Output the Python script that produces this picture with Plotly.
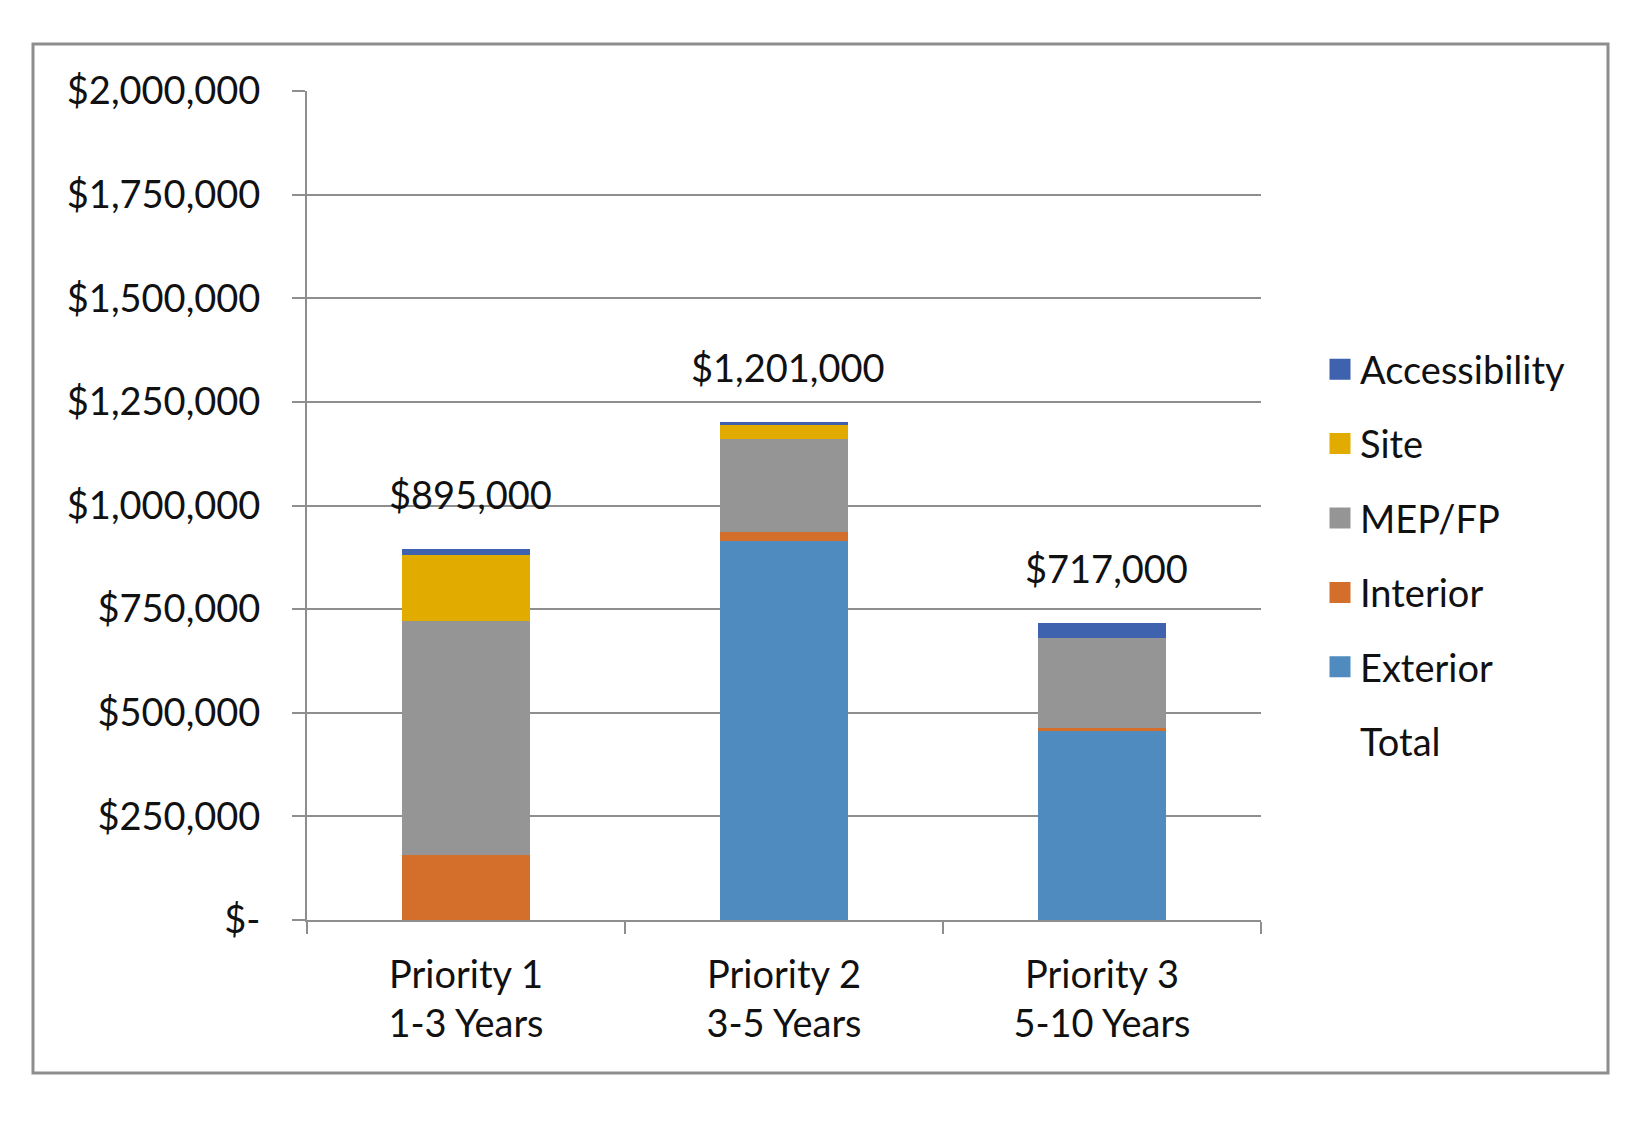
import plotly.graph_objects as go

categories = ["Priority 1<br>1-3 Years", "Priority 2<br>3-5 Years", "Priority 3<br>5-10 Years"]
exterior = [0, 914000, 457000]
interior = [157000, 23000, 7000]
mep_fp = [564000, 223000, 216000]
site = [160000, 35000, 0]
accessibility = [14000, 6000, 37000]
totals = [895000, 1201000, 717000]
total_labels = ["$895,000", "$1,201,000", "$717,000"]
y_ticks = [0, 250000, 500000, 750000, 1000000, 1250000, 1500000, 1750000, 2000000]
y_tick_labels = ["$-", "$250,000", "$500,000", "$750,000", "$1,000,000",
                 "$1,250,000", "$1,500,000", "$1,750,000", "$2,000,000"]

series = [
    ("Exterior", exterior, "#4f8bbf", 5),
    ("Interior", interior, "#d46f2b", 4),
    ("MEP/FP", mep_fp, "#959595", 3),
    ("Site", site, "#e2ab00", 2),
    ("Accessibility", accessibility, "#3e62ad", 1),
]

FONT = "Lato"
FS = 38
TXT = "#111111"
GRID = "#8e8e8e"

fig = go.Figure()
for name, vals, color, rank in series:
    fig.add_trace(go.Bar(x=categories, y=vals, name=name, marker_color=color,
                         marker_line_width=0, showlegend=False, hoverinfo="y+name"))
# legend entries with larger square swatches
for name, vals, color, rank in series:
    fig.add_trace(go.Scatter(x=[None], y=[None], name=name, mode="markers",
                             marker=dict(symbol="square", size=16, color=color,
                                         line=dict(color=color, width=5)),
                             legendrank=rank, legendgroup=name))

fig.add_trace(go.Scatter(x=categories, y=totals, name="Total", mode="markers",
                         marker=dict(color="rgba(0,0,0,0)", size=1),
                         legendrank=6, legendgroup="Total", hoverinfo="skip"))

for c, t, lab in zip(categories, totals, total_labels):
    fig.add_annotation(x=c, y=t, text=lab, showarrow=False, yanchor="bottom",
                       yshift=30, xshift=4, font=dict(family=FONT, size=FS, color=TXT))

W, H = 1650, 1125
L, R, T, B = 299, 1253, 83, 912
fig.update_layout(
    width=W, height=H,
    margin=dict(l=L, r=W - R, t=T, b=H - B, autoexpand=False),
    barmode="stack", bargap=0.6,
    plot_bgcolor="white", paper_bgcolor="white",
    font=dict(family=FONT, size=FS, color=TXT),
    showlegend=True,
    legend=dict(x=(1312 - L) / (R - L), y=(B - 330) / (B - T), xanchor="left", yanchor="top",
                font=dict(family=FONT, size=FS, color=TXT), tracegroupgap=22,
                itemsizing="trace", bgcolor="rgba(0,0,0,0)"),
    xaxis=dict(showline=True, linecolor=GRID, linewidth=2, ticks="outside",
               tickson="boundaries", ticklen=12, tickwidth=2, tickcolor=GRID,
               showgrid=False, ticklabelstandoff=20,
               tickfont=dict(family=FONT, size=FS, color=TXT)),
    yaxis=dict(range=[0, 2000000], tickvals=y_ticks, ticktext=y_tick_labels,
               showgrid=True, gridcolor=GRID, gridwidth=2, zeroline=False,
               showline=True, linecolor=GRID, linewidth=2, ticks="outside",
               ticklen=13, tickwidth=2, tickcolor=GRID, ticklabelstandoff=24,
               tickfont=dict(family=FONT, size=FS, color=TXT)),
)

pw, ph = R - L, B - T
fig.add_shape(type="rect", xref="paper", yref="paper",
              x0=(25 - L) / pw, x1=(1600 - L) / pw,
              y0=(B - 1065) / ph, y1=(B - 36) / ph,
              line=dict(color=GRID, width=3), fillcolor="rgba(0,0,0,0)", layer="below")

fig.write_html("out.html")
